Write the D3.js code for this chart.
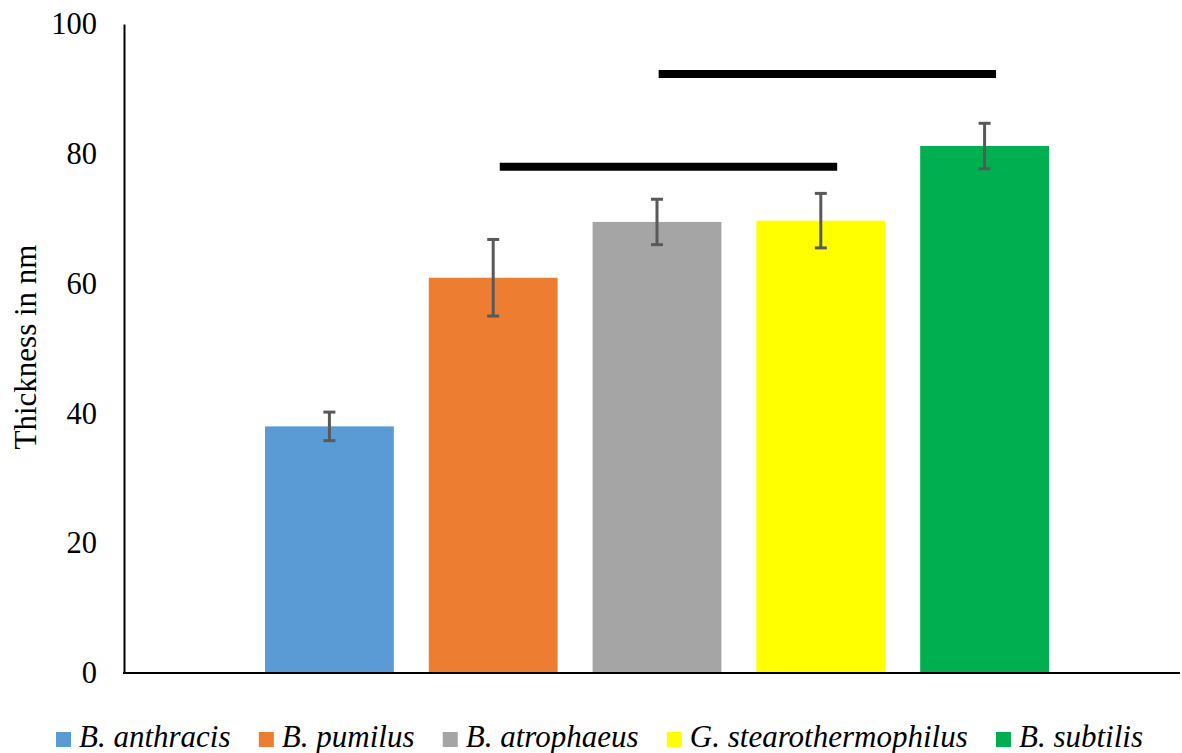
<!DOCTYPE html>
<html>
<head>
<meta charset="utf-8">
<script src="https://cdn.jsdelivr.net/npm/d3@7"></script>
<style>
  html, body { margin: 0; padding: 0; background: #fff; }
  svg { display: block; }
</style>
</head>
<body>
<svg id="chart" width="1182" height="753"></svg>
<script>
// ---- data ----
const species = ["B. anthracis", "B. pumilus", "B. atrophaeus", "G. stearothermophilus", "B. subtilis"];
const thickness = [38.0, 60.9, 69.5, 69.7, 81.2];
const errors = [2.2, 5.9, 3.5, 4.2, 3.5];
const colors = ["#5B9BD5", "#ED7D31", "#A5A5A5", "#FFFF00", "#00B050"];
const yTicks = [0, 20, 40, 60, 80, 100];
const yTitle = "Thickness in nm";
// significance bars: span between (fractional) bar indices at a given value
const sigFrom = [1.04, 2.01];
const sigTo = [3.10, 4.07];
const sigLevel = [78.0, 92.3];

const FONT = '"Liberation Serif", "Times New Roman", Times, serif';

// ---- layout ----
const svg = d3.select("#chart");
const plot = { left: 124, right: 1180, top: 24, bottom: 673 };

const y = d3.scaleLinear().domain([0, 100]).range([plot.bottom, plot.top]);
const x = d3.scaleBand().domain(species).range([247.5, 1066.5])
  .paddingInner(35 / 164).paddingOuter(35 / 164 / 2);
const pos = d3.scaleLinear().domain([0, species.length - 1])
  .range([x(species[0]) + x.bandwidth() / 2, x(species[species.length - 1]) + x.bandwidth() / 2]);

// bars
svg.append("g").selectAll("rect").data(species).join("rect")
  .attr("x", d => x(d))
  .attr("width", x.bandwidth())
  .attr("y", (d, i) => y(thickness[i]))
  .attr("height", (d, i) => y(0) - y(thickness[i]))
  .attr("fill", (d, i) => colors[i]);

// error bars
const eb = svg.append("g").attr("stroke", "#595959").attr("stroke-width", 3);
species.forEach((s, i) => {
  const cx = x(s) + x.bandwidth() / 2;
  const hi = y(thickness[i] + errors[i]), lo = y(thickness[i] - errors[i]);
  eb.append("line").attr("x1", cx).attr("x2", cx).attr("y1", hi).attr("y2", lo);
  eb.append("line").attr("x1", cx - 6).attr("x2", cx + 6).attr("y1", hi).attr("y2", hi);
  eb.append("line").attr("x1", cx - 6).attr("x2", cx + 6).attr("y1", lo).attr("y2", lo);
});

// significance lines
svg.append("g").selectAll("line").data(sigLevel).join("line")
  .attr("x1", (d, i) => pos(sigFrom[i]))
  .attr("x2", (d, i) => pos(sigTo[i]))
  .attr("y1", d => y(d)).attr("y2", d => y(d))
  .attr("stroke", "#000").attr("stroke-width", 8);

// y axis
const yAxis = svg.append("g").attr("transform", `translate(${plot.left},0)`)
  .call(d3.axisLeft(y).tickValues(yTicks).tickSize(0).tickPadding(27).tickFormat(d3.format("d")));
yAxis.select(".domain").attr("stroke", "#000").attr("stroke-width", 2);
yAxis.selectAll("text").style("font-size", "30.5px").style("font-family", FONT).attr("fill", "#000");

// x axis line
svg.append("line")
  .attr("x1", plot.left - 1).attr("x2", plot.right)
  .attr("y1", y(0)).attr("y2", y(0))
  .attr("stroke", "#000").attr("stroke-width", 2);

// y title
svg.append("text")
  .attr("transform", `translate(36,347) rotate(-90)`)
  .attr("text-anchor", "middle")
  .style("font-family", FONT)
  .style("font-size", "31px")
  .attr("fill", "#000")
  .text(yTitle);

// legend
const leg = svg.append("g");
const items = species.map((s, i) => {
  const g = leg.append("g");
  g.append("rect").attr("width", 15).attr("height", 15).attr("y", 732).attr("fill", colors[i]);
  const t = g.append("text").attr("x", 23).attr("y", 747)
    .style("font-family", FONT)
    .style("font-size", "31px").style("font-style", "italic").attr("fill", "#000").text(s);
  return { g, w: 23 + t.node().getComputedTextLength() };
});
const legStart = 56, legEnd = 1143;
const gap = (legEnd - legStart - d3.sum(items, d => d.w)) / (items.length - 1);
let cur = legStart;
items.forEach(it => { it.g.attr("transform", `translate(${cur},0)`); cur += it.w + gap; });
</script>
</body>
</html>
